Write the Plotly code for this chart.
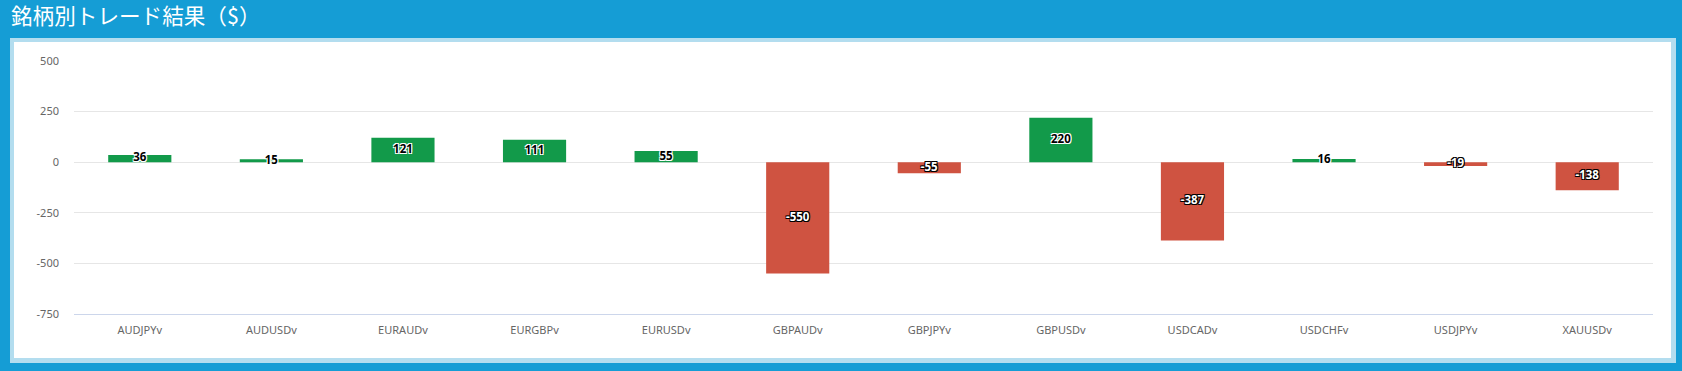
import plotly.graph_objects as go

categories = ["AUDJPYv", "AUDUSDv", "EURAUDv", "EURGBPv", "EURUSDv", "GBPAUDv",
              "GBPJPYv", "GBPUSDv", "USDCADv", "USDCHFv", "USDJPYv", "XAUUSDv"]
profits = [36, 15, 121, 111, 55, -550, -55, 220, -387, 16, -19, -138]
ytick_vals = [500, 250, 0, -250, -500, -750]
ytick_text = ["500", "250", "0", "-250", "-500", "-750"]
title_text = "銘柄別トレード結果（$）"

W, H = 1682, 371
ML, MR, MT, MB = 74, 29, 61, 57
PW = W - ML - MR
PH = H - MT - MB

def px_x(px):
    return (px - ML) / PW

def px_y(py):
    return (H - MB - py) / PH

GREEN = "#129a4a"
RED = "#cf5341"
BLUE = "#159dd5"
LIGHT = "#b3ddef"

bar_colors = [GREEN if v >= 0 else RED for v in profits]

white_outline = "1px 1px 0 #fff, -1px -1px 0 #fff, 1px -1px 0 #fff, -1px 1px 0 #fff"
black_outline = "1px 1px 0 #000, -1px -1px 0 #000, 1px -1px 0 #000, -1px 1px 0 #000"

fig = go.Figure()
fig.add_trace(go.Bar(
    x=categories, y=profits, marker=dict(color=bar_colors, line=dict(width=0)),
    width=0.48, hoverinfo="x+y", showlegend=False,
))

pos = [(c, v) for c, v in zip(categories, profits) if v >= 0]
neg = [(c, v) for c, v in zip(categories, profits) if v < 0]

fig.add_trace(go.Scatter(
    x=[c for c, v in pos], y=[v / 2 for c, v in pos], mode="text",
    text=[str(v) for c, v in pos],
    textfont=dict(family="Noto Sans", size=11.5, color="#000000", weight="bold", shadow=white_outline),
    textposition="middle center", showlegend=False, hoverinfo="skip",
))
fig.add_trace(go.Scatter(
    x=[c for c, v in neg], y=[v / 2 for c, v in neg], mode="text",
    text=[str(v) for c, v in neg],
    textfont=dict(family="Noto Sans", size=11.5, color="#ffffff", weight="bold", shadow=black_outline),
    textposition="middle center", showlegend=False, hoverinfo="skip",
))

shapes = [
    dict(type="rect", xref="paper", yref="paper", layer="below",
         x0=px_x(10), x1=px_x(1676), y0=px_y(363), y1=px_y(38),
         fillcolor=LIGHT, line=dict(width=0)),
    dict(type="rect", xref="paper", yref="paper", layer="below",
         x0=px_x(14), x1=px_x(1671), y0=px_y(358), y1=px_y(42),
         fillcolor="#ffffff", line=dict(width=0)),
]

fig.update_layout(
    width=W, height=H,
    margin=dict(l=ML, r=MR, t=MT, b=MB),
    paper_bgcolor=BLUE, plot_bgcolor="#ffffff",
    shapes=shapes,
    annotations=[dict(
        text=title_text, xref="paper", yref="paper",
        x=px_x(9), y=px_y(15), xanchor="left", yanchor="middle", showarrow=False,
        font=dict(family="Noto Sans CJK JP", size=21.6, color="#ffffff"),
    )],
    font=dict(family="Noto Sans", size=11, color="#666666"),
    xaxis=dict(
        type="category", range=[-0.5, len(categories) - 0.5],
        showgrid=False, showline=True, linecolor="#ccd6eb", linewidth=1,
        ticks="", ticklabelstandoff=6, tickfont=dict(size=11, color="#666666"),
        fixedrange=True,
    ),
    yaxis=dict(
        range=[-750, 500], tickvals=ytick_vals, ticktext=ytick_text,
        showgrid=True, gridcolor="#e6e6e6", gridwidth=1,
        zeroline=True, zerolinecolor="#e6e6e6", zerolinewidth=1,
        showline=False, ticks="", ticklabelstandoff=14,
        tickfont=dict(size=11, color="#666666"), fixedrange=True,
    ),
)

fig.write_html("out.html")
